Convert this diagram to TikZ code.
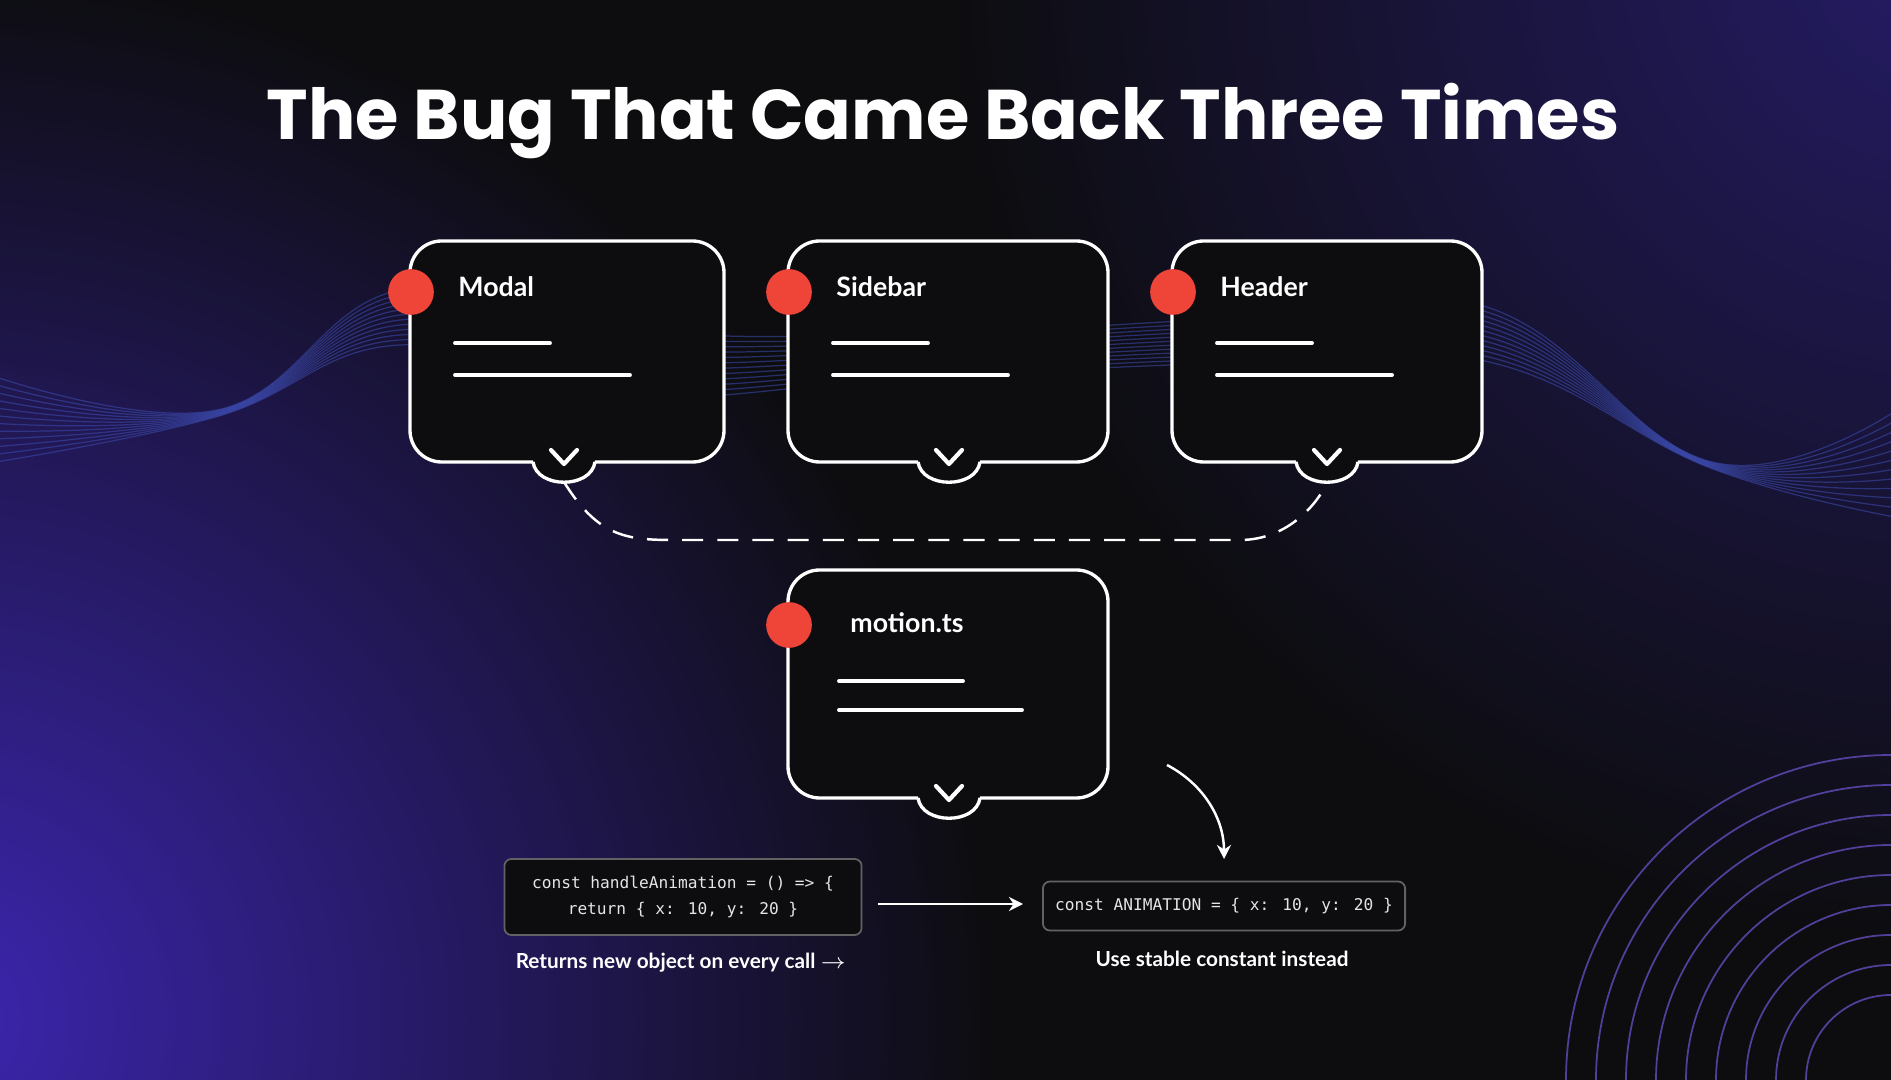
\documentclass[tikz,border=0pt]{standalone}
\usepackage{fontspec}
\usetikzlibrary{arrows.meta}
\setmainfont{Lato}
\newfontfamily\titlef{Poppins}
\newfontfamily\codef{DejaVu Sans Mono}
\definecolor{bg}{HTML}{0D0D10}
\definecolor{glowA}{HTML}{3C26B0}
\definecolor{glowB}{HTML}{251C66}
\definecolor{dot}{HTML}{EF4438}
\definecolor{wave}{HTML}{3D4CB0}
\definecolor{ring}{HTML}{6A50C8}
\begin{document}
\begin{tikzpicture}[x=0.01cm,y=-0.01cm,
  card/.style={fill=bg,draw=white,line width=0.95pt,rounded corners=9pt},
  edge/.style={draw=white,line width=0.95pt},
  reddot/.style={circle,fill=dot,minimum size=13pt,inner sep=0pt},
  lbl/.style={text=white,font=\bfseries\fontsize{7.6pt}{9pt}\selectfont,anchor=west},
  bar/.style={white,line width=1.1pt,line cap=round},
  chev/.style={white,line width=1.2pt,line cap=round,line join=round},
  code/.style={draw=white!35!bg,line width=0.5pt,rounded corners=2pt,fill=bg,text=white!90!black,font=\codef\fontsize{4.6pt}{7.6pt}\selectfont,align=center,inner sep=0pt},
  captxt/.style={text=white,font=\bfseries\fontsize{5.9pt}{7pt}\selectfont},
  arr/.style={white,line width=0.7pt,-{Stealth[length=4pt,width=4pt]}}]
\useasboundingbox (0,0) rectangle (1891,1080);
\fill[bg] (0,0) rectangle (1891,1080);
\begin{scope}
\clip (0,0) rectangle (1891,1080);
\shade[inner color=glowA,outer color=bg] (-60,1020) circle (1050);
\shade[inner color=glowB,outer color=bg] (1950,-60) circle (1000);
\foreach \i in {0,...,11}{
  \draw[wave,opacity=0.55,line width=0.35pt] plot[smooth,tension=0.7] coordinates {
    (-10,{375+8*\i}) (217,{410+0.6*\i}) (400,{290+5*\i}) (620,{330+6*\i})
    (900,{335+4*\i}) (1200,{320+4*\i}) (1480,{305+5*\i}) (1712,{462+0.6*\i}) (1900,{408+10*\i})};
}
\foreach \r in {85,115,...,325}{
  \draw[ring,opacity=0.75,line width=0.5pt] (1891,1080) circle (\r);
}
\end{scope}
% title
\node[text=white,font=\titlef\bfseries\fontsize{20pt}{23pt}\selectfont] (title) at (943,121) {The Bug That Came Back Three Times};
% cards
\foreach \n/\xa/\xb/\cx/\ya/\yb/\t/\dd/\lx/\ly/\ba/\bb/\bx/\ea/\eb in {
  modal/410/724/564/241/462/Modal/51/36/46/102/134/45/140/220,
  side/788/1108/949/241/462/Sidebar/51/36/46/102/134/45/140/220,
  head/1172/1482/1327/241/462/Header/51/36/46/102/134/45/140/220,
  motion/788/1108/949/570/798/motion.ts/55/50/53/111/140/51/175/234}{
  \draw[card] (\xa,\ya) rectangle (\xb,\yb);
  \fill[bg] (\cx-31,\yb-2) .. controls (\cx-28,\yb+27) and (\cx+28,\yb+27) .. (\cx+31,\yb-2) -- cycle;
  \draw[edge] (\cx-31,\yb) .. controls (\cx-27,\yb+27) and (\cx+27,\yb+27) .. (\cx+31,\yb);
  \coordinate (\n-b) at (\cx,\yb+20);
  \draw[chev] (\cx-13,\yb-12) -- (\cx,\yb+2) -- (\cx+13,\yb-12);
  \node[reddot] (\n-dot) at (\xa+1,\ya+\dd) {};
  \node[lbl] (\n-lbl) at (\xa+\lx,\ya+\ly) {\t};
  \draw[bar] (\xa+\bx,\ya+\ba) -- (\xa+\ea,\ya+\ba);
  \draw[bar] (\xa+\bx,\ya+\bb) -- (\xa+\eb,\ya+\bb);
}
% dashed connector
\coordinate (dl) at (680,540);
\coordinate (dr) at (1240,540);
\draw[white,line width=0.7pt,dash pattern=on 6pt off 4pt] (modal-b) .. controls (600,540) and (630,540) .. (dl) -- (dr) .. controls (1290,540) and (1320,500) .. (head-b);
% code boxes
\node[code,minimum width=3.57cm,minimum height=0.76cm] (old) at (683,897) {const handleAnimation = () => \{\\return \{ x: 10, y: 20 \}};
\node[code,minimum width=3.62cm,minimum height=0.49cm] (new) at (1224,906) {const ANIMATION = \{ x: 10, y: 20 \}};
\coordinate (a1) at (878,904);
\coordinate (a2) at (1023,904);
\draw[arr] (a1) -- (a2);
\node[captxt] (capold) at (681,963) {Returns new object on every call $\rightarrow$};
\node[captxt] (capnew) at (1222,959) {Use stable constant instead};
\coordinate (c1) at (1167,765);
\coordinate (c2) at (1224,859);
\draw[arr] (c1) .. controls (1205,785) and (1224,820) .. (c2);
\end{tikzpicture}
\end{document}
